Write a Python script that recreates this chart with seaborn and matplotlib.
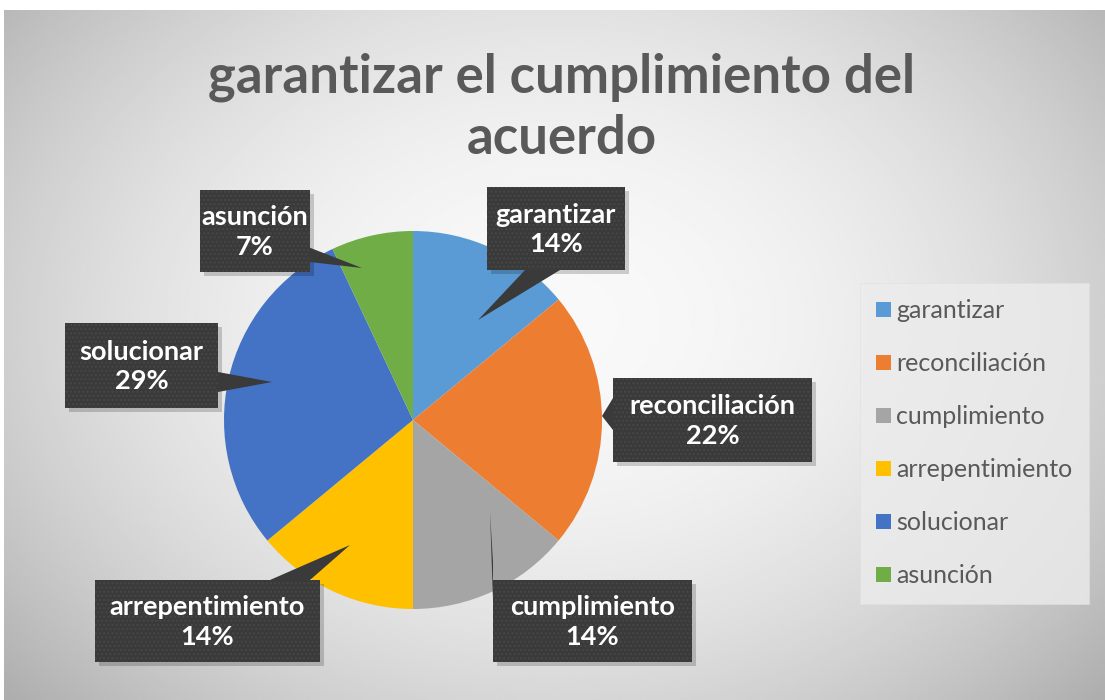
import numpy as np
import matplotlib
matplotlib.use("Agg")
import matplotlib.pyplot as plt
import seaborn as sns
from matplotlib.patches import Rectangle, Polygon

# Data
categories = ["garantizar", "reconciliación", "cumplimiento", "arrepentimiento", "solucionar", "asunción"]
percentages = [14, 22, 14, 14, 29, 7]
slice_colors = ["#5B9BD5", "#ED7D31", "#A5A5A5", "#FFC000", "#4472C4", "#70AD47"]
chart_title = "garantizar el cumplimiento del\nacuerdo"

sns.set_theme(style="white")
plt.rcParams['font.family'] = ['Lato', 'DejaVu Sans']

W, H = 1105, 700
fig = plt.figure(figsize=(W / 100, H / 100), dpi=100)
fig.patch.set_facecolor("white")

# background gradient (chart area)
bg = fig.add_axes([4 / W, 0, 1 - 4 / W, 1 - 10 / H])
yy, xx = np.mgrid[0:1:300j, 0:1:500j]
r = np.sqrt(((xx - 0.5) / 0.62) ** 2 + ((yy - 0.45) / 0.75) ** 2)
shade = np.clip(0.975 - 0.25 * r ** 2, 0.68, 1)
bg.imshow(shade, cmap="gray", vmin=0, vmax=1, aspect="auto", extent=(0, 1, 0, 1))
bg.set_axis_off()

# overlay axes in pixel coordinates
ov = fig.add_axes([0, 0, 1, 1])
ov.set_xlim(0, W)
ov.set_ylim(H, 0)
ov.set_axis_off()
ov.patch.set_alpha(0)

# pie
cx, cy, rad = 413, 420, 189
half = 1.25 * rad
pax = fig.add_axes([(cx - half) / W, (H - cy - half) / H, 2 * half / W, 2 * half / H])
wedges, _ = pax.pie(percentages, colors=slice_colors, startangle=90, counterclock=False,
                    wedgeprops=dict(linewidth=0))
pax.set_xlim(-1.25, 1.25)
pax.set_ylim(-1.25, 1.25)
pax.set_zorder(2)
ov.set_zorder(3)

ov.text(562, 108, chart_title, ha="center", va="center", fontsize=38, fontweight="bold",
        color="#595959", linespacing=1.3)

# callouts: box (x0, y0, x1, y1), pointer base (two points) and tip
boxes = [(487, 187, 625, 270), (613, 378, 812, 462), (493, 580, 692, 662),
         (95, 580, 320, 662), (65, 323, 218, 408), (200, 190, 310, 272)]
bases = [[(525, 270), (560, 270)], [(613, 398), (613, 430)], [(493, 562), (493, 600)],
         [(270, 580), (310, 580)], [(218, 372), (218, 392)], [(290, 240), (310, 262)]]
tips = [(478, 320), (602, 416), (490, 512), (350, 545), (272, 382), (362, 268)]

for (x0, y0, x1, y1), base, tip, name, pct in zip(boxes, bases, tips, categories, percentages):
    ov.add_patch(Rectangle((x0 + 4, y0 + 4), x1 - x0, y1 - y0, facecolor="#000000",
                           alpha=0.18, linewidth=0, zorder=1))
    ov.add_patch(Polygon([base[0], tip, base[1]], closed=True, facecolor="#3a3a3a",
                         linewidth=0, zorder=2))
    ov.add_patch(Rectangle((x0, y0), x1 - x0, y1 - y0, facecolor="#3a3a3a",
                           edgecolor="#474747", hatch="....", linewidth=0, zorder=3))
    ov.text((x0 + x1) / 2, (y0 + y1) / 2 + 1, f"{name}\n{pct}%", ha="center", va="center",
            fontsize=19.5, fontweight="bold", color="white", linespacing=1.28, zorder=4)

leg = ov.legend(wedges, categories, loc="upper left", bbox_to_anchor=(860 / W, 1 - 283 / H),
                bbox_transform=fig.transFigure, frameon=True, fancybox=False,
                fontsize=18, labelspacing=1.2, handlelength=0.6, handleheight=0.6,
                handletextpad=0.2, borderpad=0.65, borderaxespad=0)
leg.get_frame().set_facecolor("#ececec")
leg.get_frame().set_edgecolor("#e0e0e0")
leg.get_frame().set_linewidth(0.5)
for t in leg.get_texts():
    t.set_color("#595959")

fig.savefig("out.png", dpi=100)
